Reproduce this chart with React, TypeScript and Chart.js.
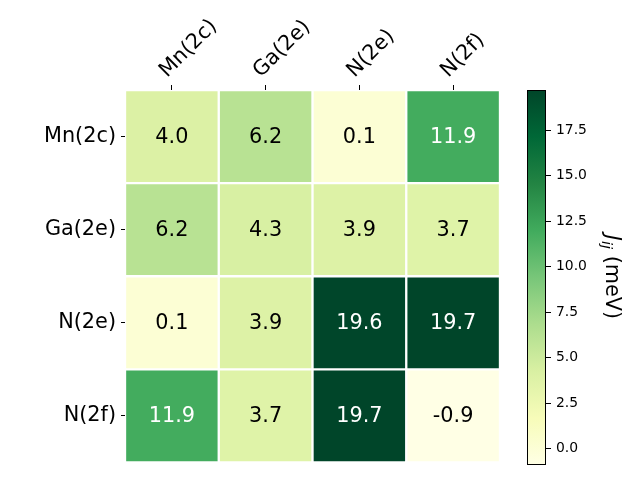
import React, { useEffect, useRef } from "react";
import { Chart, registerables } from "chart.js";

Chart.register(...registerables);

const colLabels = ["Mn(2c)", "Ga(2e)", "N(2e)", "N(2f)"];
const rowLabels = ["Mn(2c)", "Ga(2e)", "N(2e)", "N(2f)"];
const row0 = [4.0, 6.2, 0.1, 11.9];
const row1 = [6.2, 4.3, 3.9, 3.7];
const row2 = [0.1, 3.9, 19.6, 19.7];
const row3 = [11.9, 3.7, 19.7, -0.9];
const rows = [row0, row1, row2, row3];
const vmin = -0.9;
const vmax = 19.7;
const colorbarTicks = [0, 2.5, 5, 7.5, 10, 12.5, 15, 17.5];

const FONT = "'DejaVu Sans', 'Liberation Sans', sans-serif";
const BIG = 20.8;

// matplotlib YlGn
const ylgn: [number, number, number][] = [
  [255, 255, 229],
  [247, 252, 185],
  [217, 240, 163],
  [173, 221, 142],
  [120, 198, 121],
  [65, 171, 93],
  [35, 132, 67],
  [0, 104, 55],
  [0, 69, 41],
];

function cmap(t: number): string {
  const x = Math.max(0, Math.min(1, t)) * (ylgn.length - 1);
  const i = Math.min(ylgn.length - 2, Math.floor(x));
  const f = x - i;
  const a = ylgn[i];
  const b = ylgn[i + 1];
  const c = a.map((v, k) => Math.round(v + (b[k] - v) * f));
  return `rgb(${c[0]},${c[1]},${c[2]})`;
}

function colorFor(v: number): string {
  return cmap((v - vmin) / (vmax - vmin));
}

export default function App() {
  const mainRef = useRef<HTMLCanvasElement>(null);
  const barRef = useRef<HTMLCanvasElement>(null);

  useEffect(() => {
    const cellText = {
      id: "cellText",
      afterDatasetsDraw(chart: any) {
        const ctx = chart.ctx;
        ctx.save();
        ctx.font = `${BIG}px ${FONT}`;
        ctx.textAlign = "center";
        ctx.textBaseline = "middle";
        chart.data.datasets.forEach((ds: any, di: number) => {
          const meta = chart.getDatasetMeta(di);
          meta.data.forEach((el: any, i: number) => {
            const v = rows[di][i];
            ctx.fillStyle = v > 10 ? "#ffffff" : "#000000";
            const cy = (el.y + el.base) / 2;
            ctx.fillText(v.toFixed(1), el.x, cy + 1);
          });
        });
        ctx.restore();
      },
      afterDraw(chart: any) {
        const ctx = chart.ctx;
        const xs = chart.scales.x;
        const top = chart.chartArea.top;
        ctx.save();
        ctx.font = `${BIG}px ${FONT}`;
        ctx.fillStyle = "#000";
        ctx.textAlign = "left";
        ctx.textBaseline = "alphabetic";
        colLabels.forEach((lab, i) => {
          const px = xs.getPixelForTick(i);
          ctx.save();
          ctx.translate(px - 5, top - 12);
          ctx.rotate(-Math.PI / 4);
          ctx.fillText(lab, 0, 0);
          ctx.restore();
        });
        ctx.restore();
      },
    };

    const main = new Chart(mainRef.current!, {
      type: "bar",
      data: {
        labels: colLabels,
        datasets: rows.map((r, ri) => ({
          label: rowLabels[ri],
          data: r.map(() => [ri, ri + 1] as any),
          backgroundColor: r.map((v) => colorFor(v)),
          borderColor: "#ffffff",
          borderWidth: 1.5,
          borderSkipped: false as any,
          grouped: false,
          barPercentage: 1,
          categoryPercentage: 1,
        })),
      },
      options: {
        animation: false,
        responsive: false,
        maintainAspectRatio: false,
        events: [],
        layout: { padding: { left: 0, top: 0, right: 20, bottom: 15 } },
        plugins: { legend: { display: false }, tooltip: { enabled: false } },
        scales: {
          x: {
            type: "category",
            position: "top",
            offset: true,
            grid: {
              offset: false,
              drawOnChartArea: false,
              drawTicks: true,
              tickLength: 5,
              tickColor: "#000",
              tickWidth: 1,
            },
            border: { display: false },
            ticks: {
              display: false,
            },
            afterFit(scale: any) {
              scale.height = 90;
            },
          },
          y: {
            type: "linear",
            min: 0,
            max: 4,
            reverse: true,
            grid: {
              drawOnChartArea: false,
              drawTicks: true,
              tickLength: 4,
              tickColor: "#000",
              tickWidth: 1,
            },
            border: { display: false },
            afterBuildTicks(scale: any) {
              scale.ticks = rowLabels.map((_, i) => ({ value: i + 0.5 }));
            },
            ticks: {
              padding: 5,
              color: "#000",
              font: { family: FONT, size: BIG },
              callback: (_v: any, i: number) => rowLabels[i],
            },
            afterFit(scale: any) {
              scale.width = 125;
            },
          },
        },
      },
      plugins: [cellText],
    } as any);

    const gradientPlugin = {
      id: "gradientFill",
      beforeDatasetsDraw(chart: any) {
        const { ctx, chartArea } = chart;
        const { left, right, top, bottom } = chartArea;
        const g = ctx.createLinearGradient(0, bottom, 0, top);
        ylgn.forEach((c, i) => {
          g.addColorStop(i / (ylgn.length - 1), `rgb(${c[0]},${c[1]},${c[2]})`);
        });
        ctx.save();
        ctx.fillStyle = g;
        ctx.fillRect(left, top, right - left, bottom - top);
        ctx.strokeStyle = "#000";
        ctx.lineWidth = 1;
        ctx.strokeRect(Math.round(left) + 0.5, Math.round(top) + 0.5, Math.round(right - left) - 1, Math.round(bottom - top) - 1);
        ctx.restore();
      },
      afterDraw(chart: any) {
        const ctx = chart.ctx;
        const cx = 111;
        const cy = 277;
        ctx.save();
        ctx.translate(cx, cy);
        ctx.rotate(Math.PI / 2);
        ctx.fillStyle = "#000";
        ctx.textBaseline = "middle";
        const fJ = `italic ${BIG}px ${FONT}`;
        const fSub = `italic 14.5px ${FONT}`;
        const fRest = `${BIG}px ${FONT}`;
        ctx.font = fJ;
        const wJ = ctx.measureText("J").width;
        ctx.font = fSub;
        const wSub = ctx.measureText("ij").width;
        ctx.font = fRest;
        const wRest = ctx.measureText(" (meV)").width;
        const total = wJ + wSub + wRest;
        let x = -total / 2;
        ctx.textAlign = "left";
        ctx.font = fJ;
        ctx.fillText("J", x, 0);
        x += wJ;
        ctx.font = fSub;
        ctx.fillText("ij", x, 5);
        x += wSub;
        ctx.font = fRest;
        ctx.fillText(" (meV)", x, 0);
        ctx.restore();
      },
    };

    const bar = new Chart(barRef.current!, {
      type: "bar",
      data: { labels: [""], datasets: [] },
      options: {
        animation: false,
        responsive: false,
        maintainAspectRatio: false,
        events: [],
        layout: { padding: { left: 27, top: 90, right: 0, bottom: 15 } },
        plugins: { legend: { display: false }, tooltip: { enabled: false } },
        scales: {
          x: { type: "category", display: false },
          y: {
            type: "linear",
            position: "right",
            min: vmin,
            max: vmax,
            grid: {
              drawOnChartArea: false,
              drawTicks: true,
              tickLength: 5,
              tickColor: "#000",
              tickWidth: 1,
            },
            border: { display: false },
            afterBuildTicks(scale: any) {
              scale.ticks = colorbarTicks.map((v) => ({ value: v }));
            },
            ticks: {
              padding: 5,
              color: "#000",
              font: { family: FONT, size: 13.9 },
              callback: (v: any) => Number(v).toFixed(1),
            },
            afterFit(scale: any) {
              scale.width = 94;
            },
          },
        },
      },
      plugins: [gradientPlugin],
    } as any);

    return () => {
      main.destroy();
      bar.destroy();
    };
  }, []);

  return (
    <div style={{ position: "absolute", left: 0, top: 0, width: 640, height: 480, background: "#fff" }}>
      <canvas ref={mainRef} width={520} height={480} style={{ position: "absolute", left: 0, top: 0, width: 520, height: 480 }} />
      <canvas ref={barRef} width={140} height={480} style={{ position: "absolute", left: 500, top: 0, width: 140, height: 480 }} />
    </div>
  );
}
